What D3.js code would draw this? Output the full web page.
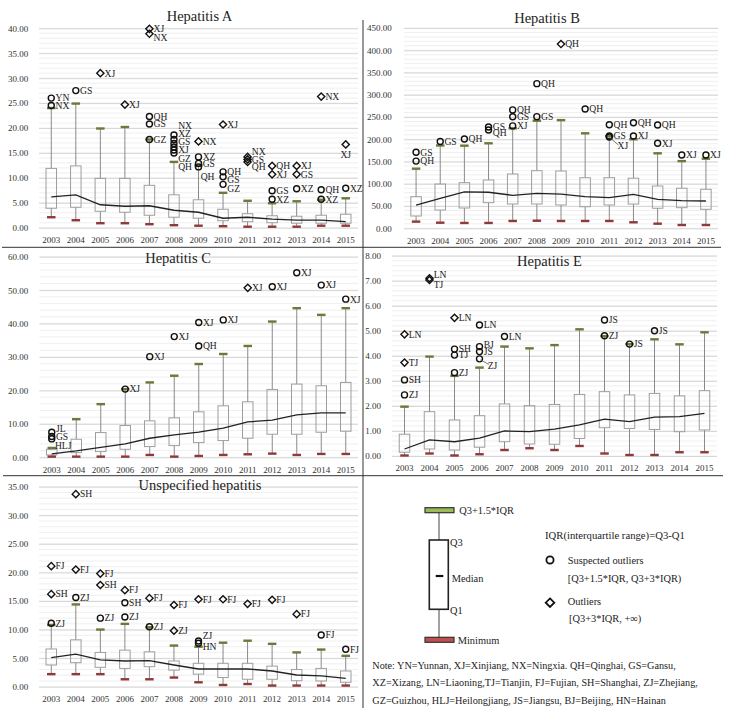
<!DOCTYPE html>
<html><head><meta charset="utf-8">
<script src="https://cdn.jsdelivr.net/npm/d3@7"></script>
<style>body{margin:0;background:#fff}svg{display:block}</style>
</head><body><svg id="c" width="730" height="717"></svg>
<script>
const years = [2003,2004,2005,2006,2007,2008,2009,2010,2011,2012,2013,2014,2015];

// Hepatitis A
const aQ3  = [11.9,12.4,9.9,9.9,8.5,6.6,5.6,3.7,2.8,2.4,2.3,2.5,2.7];
const aQ1  = [3.9,4.1,3.3,3.1,2.5,2.1,1.9,1.4,1.2,1.0,0.9,0.9,0.9];
const aMed = [6.2,6.6,4.6,4.3,4.4,3.5,3.1,1.9,2.1,1.7,1.5,1.5,1.2];
const aMax = [24.0,24.9,19.9,20.2,17.7,13.2,12.5,7.0,5.4,4.9,5.3,5.6,5.9];
const aMin = [2.1,1.5,0.9,0.9,0.7,0.5,0.4,0.3,0.2,0.2,0.2,0.4,0.4];
const aOut = [
 [2003,26.0,'YN','c'],[2003,24.5,'NX','c'],[2004,27.5,'GS','c'],[2005,31.0,'XJ','d'],[2006,24.7,'XJ','d'],
 [2007,39.9,'XJ','d'],[2007,38.9,'NX','d'],[2007,22.3,'QH','c'],[2007,20.8,'GS','c'],[2007,17.7,'GZ','c'],
 [2008,18.6,'NX','c'],[2008,17.7,'XZ','c'],[2008,16.9,'GS','c'],[2008,16.2,'XJ','c'],[2008,15.6,'GZ','c'],[2008,15.0,'QH','c'],
 [2009,17.3,'NX','d'],[2009,14.2,'XZ','c'],[2009,12.9,'GS','c'],[2009,12.2,'QH','c'],
 [2010,20.7,'XJ','d'],[2010,11.2,'QH','c'],[2010,10.2,'GS','c'],[2010,8.7,'GZ','c'],
 [2011,14.2,'NX','d'],[2011,13.7,'GS','d'],[2011,13.2,'QH','d'],
 [2012,12.4,'QH','d'],[2012,10.7,'XJ','d'],[2012,7.4,'GS','c'],[2012,5.7,'XZ','c'],
 [2013,12.4,'XJ','d'],[2013,10.7,'GS','d'],[2013,7.8,'XZ','c'],
 [2014,26.3,'NX','d'],[2014,7.6,'QH','c'],[2014,5.7,'XZ','c'],
 [2015,16.7,'XJ','d'],[2015,7.9,'XZ','c']
];

// Hepatitis B
const bQ3  = [71,99.5,102.5,108.5,122,129.4,128.7,113.7,113.7,112.6,95,90,87.6];
const bQ1  = [27.6,41,45.6,57.5,54.6,54.6,52.4,48.5,52.4,54.5,45,46.3,42.7];
const bMed = [52,67,82,81,74,78.6,77,71,68.8,76.4,65,62,61.3];
const bMax = [134,186,185.6,191,224.7,241.7,243,213.4,207,200,168.5,151,156.4];
const bMin = [15,12.6,12,12,16.4,17,16.4,16.4,16.4,13.5,10.4,7.4,7.4];
const bOut = [
 [2003,171,'GS','c'],[2003,151,'QH','c'],[2004,195,'GS','c'],[2005,200.6,'QH','c'],
 [2006,227.6,'GS','c'],[2006,221,'QH','c'],[2007,266,'QH','c'],[2007,250.7,'GS','c'],[2007,230,'XJ','c'],
 [2008,325,'QH','c'],[2008,250.8,'GS','c'],[2009,414,'QH','d'],[2010,268,'QH','c'],
 [2011,232.8,'QH','c'],[2011,207.4,'GS','c'],[2011,205,'XJ','c'],[2012,237.3,'QH','c'],[2012,207.4,'XJ','c'],
 [2013,232,'QH','c'],[2013,191,'XJ','c'],[2014,164.7,'XJ','c'],[2015,164.7,'XJ','c']
];

// Hepatitis C
const cQ3  = [2.4,5.4,7.4,9.5,10.9,11.8,13.6,15.4,16.6,20.3,21.9,21.4,22.4];
const cQ1  = [0.7,1.4,1.7,2.4,3.2,3.5,4.4,5.0,5.7,6.9,6.9,7.5,7.8];
const cMed = [1.0,1.9,3.0,4.0,5.7,6.7,7.5,8.7,10.6,11.1,12.7,13.3,13.3];
const cMax = [2.8,11.4,15.9,20.4,22.4,24.4,27.9,30.9,33.3,40.6,44.6,42.6,44.6];
const cMin = [0.2,0.2,0.2,0.2,0.7,0.2,0.4,0.7,0.9,1.1,0.7,1.0,1.0];
const cOut = [
 [2003,7.5,'JL','c'],[2003,6.2,'GS','c'],[2003,5.5,'HLJ','c'],[2006,20.4,'XJ','c'],[2007,30.1,'XJ','c'],
 [2008,36.1,'XJ','c'],[2009,40.3,'XJ','c'],[2009,33.3,'QH','c'],[2010,41.1,'XJ','c'],[2011,50.7,'XJ','d'],
 [2012,51.0,'XJ','c'],[2013,55.2,'XJ','c'],[2014,51.5,'XJ','c'],[2015,47.3,'XJ','c']
];

// Hepatitis E
const eQ3  = [0.87,1.77,1.44,1.61,2.08,2.01,2.06,2.46,2.57,2.44,2.5,2.4,2.61];
const eQ1  = [0.15,0.28,0.24,0.35,0.57,0.48,0.47,0.7,1.13,1.1,1.06,0.97,1.04];
const eMed = [0.28,0.64,0.57,0.71,1.0,0.97,1.07,1.24,1.47,1.37,1.55,1.57,1.7];
const eMax = [1.97,3.97,3.2,3.53,4.37,4.3,4.43,5.06,4.79,4.47,4.66,4.46,4.94];
const eMin = [0.02,0.1,0.02,0.07,0.24,0.31,0.24,0.4,0.1,0.04,0.04,0.15,0.15];
const eOut = [
 [2003,4.86,'LN','d'],[2003,3.73,'TJ','d'],[2003,3.04,'SH','c'],[2003,2.44,'ZJ','c'],
 [2004,7.1,'LN','d'],[2004,7.03,'TJ','d'],
 [2005,5.52,'LN','d'],[2005,4.27,'SH','c'],[2005,4.03,'TJ','c'],[2005,3.33,'ZJ','c'],
 [2006,5.23,'LN','c'],[2006,4.37,'BJ','c'],[2006,4.17,'JS','c'],[2006,3.88,'ZJ','c'],
 [2007,4.77,'LN','c'],[2011,5.43,'JS','c'],[2011,4.8,'ZJ','c'],[2012,4.47,'JS','c'],[2013,5.0,'JS','c']
];

// Unspecified hepatitis
const uQ3  = [6.6,8.2,6.0,6.4,6.1,4.5,4.1,4.1,4.1,3.6,3.0,3.2,2.75];
const uQ1  = [3.8,4.2,3.4,3.2,3.5,2.9,2.2,1.6,1.3,1.3,1.05,1.0,0.77];
const uMed = [5.1,5.7,4.7,4.5,4.55,3.8,3.1,3.1,3.1,2.75,2.05,1.9,1.45];
const uMax = [10.8,14.4,10.0,11.0,10.4,7.2,7.0,7.7,8.05,7.5,6.0,6.5,5.4];
const uMin = [2.2,2.2,2.2,1.3,1.3,1.6,0.77,0.3,0.47,0.2,0.2,0.2,0.2];
const uOut = [
 [2003,21.1,'FJ','d'],[2003,16.2,'SH','d'],[2003,11.1,'ZJ','c'],
 [2004,33.7,'SH','d'],[2004,20.5,'FJ','d'],[2004,15.6,'ZJ','c'],
 [2005,19.8,'FJ','d'],[2005,17.8,'SH','d'],[2005,12.0,'ZJ','c'],
 [2006,16.9,'FJ','d'],[2006,14.7,'SH','c'],[2006,12.2,'ZJ','c'],
 [2007,15.5,'FJ','d'],[2007,10.5,'ZJ','c'],[2008,14.3,'FJ','d'],[2008,9.8,'ZJ','d'],
 [2009,15.3,'FJ','d'],[2009,8.0,'ZJ','c'],[2009,7.6,'HN','c'],
 [2010,15.3,'FJ','d'],[2011,14.5,'FJ','d'],[2012,15.2,'FJ','d'],[2013,12.7,'FJ','d'],
 [2014,9.05,'FJ','c'],[2015,6.55,'FJ','c']
];

const noteLines = [
 'Note: YN=Yunnan, XJ=Xinjiang, NX=Ningxia. QH=Qinghai, GS=Gansu,',
 'XZ=Xizang, LN=Liaoning,TJ=Tianjin, FJ=Fujian, SH=Shanghai, ZJ=Zhejiang,',
 'GZ=Guizhou, HLJ=Heilongjiang, JS=Jiangsu, BJ=Beijing, HN=Hainan'
];

// label nudges (pixels) : [dx, dy, leader]
const nudge = {
 A:{'2007NX':[0,4],'2008NX':[0,-9],'2008XZ':[0,-5.5],'2008GS':[0,-1.8],'2008XJ':[0,3.1],'2008GZ':[0,8.4],'2008QH':[0,13.8],
    '2009QH':[-2,10],'2010GS':[0,2.6],'2010GZ':[0,4],'2011NX':[0,-5],'2011QH':[0,5],'2015XJ':[-9.5,10]},
 B:{'2006QH':[0,3],'2011XJ':[4,9,true]},
 C:{'2003JL':[0,-4],'2003HLJ':[-1,7]},
 E:{'2004LN':[0,-3.5],'2004TJ':[0,4.5],'2006BJ':[0,-1.5],'2006ZJ':[4,6.5,true]},
 U:{'2009ZJ':[0,-5],'2009HN':[0,3]}
};

const FONT = '"Liberation Serif", "Times New Roman", serif';
const svg = d3.select('#c');

function panel(cfg){
  const x = d3.scaleBand().domain(years).range([cfg.left, cfg.right]);
  const y = d3.scaleLinear().domain([0, cfg.max]).range([cfg.bottom, cfg.top]);
  const g = svg.append('g');
  const W = cfg.right - cfg.left;
  g.append('g').selectAll('line').data(d3.range(0, cfg.max + 1e-9, cfg.minor)).join('line')
    .attr('x1', cfg.left).attr('x2', cfg.right)
    .attr('y1', d => y(d)).attr('y2', d => y(d))
    .attr('stroke', '#ebebeb').attr('stroke-width', 0.8);
  const ya = g.append('g').attr('transform', `translate(${cfg.left},0)`)
    .call(d3.axisLeft(y).tickValues(d3.range(0, cfg.max + 1e-9, cfg.major))
      .tickFormat(d3.format('.2f')).tickSize(-W).tickPadding(cfg.pad));
  ya.select('.domain').remove();
  ya.selectAll('line').attr('stroke', '#d3d3d3').attr('stroke-width', 0.9);
  ya.selectAll('text').attr('font-family', FONT).attr('font-size', 9).attr('fill', '#333');
  const xa = g.append('g').attr('transform', `translate(0,${cfg.bottom})`)
    .call(d3.axisBottom(x).tickSize(0).tickPadding(9));
  xa.select('.domain').remove();
  xa.selectAll('text').attr('font-family', FONT).attr('font-size', 9).attr('fill', '#333');
  g.append('text').attr('x', cfg.tx).attr('y', cfg.ty).attr('text-anchor', 'middle')
    .attr('font-family', FONT).attr('font-size', 14.5).attr('fill', '#222').text(cfg.title);

  const rows = years.map((yr, i) => ({yr, q1: cfg.q1[i], q3: cfg.q3[i], med: cfg.med[i], mx: cfg.mx[i], mn: cfg.mn[i]}));
  const bw = 10.5, cw = 8.5;
  const cx = d => x(d.yr) + x.bandwidth() / 2;
  g.append('g').selectAll('line').data(rows).join('line')
    .attr('x1', cx).attr('x2', cx).attr('y1', d => y(d.q3)).attr('y2', d => y(d.mx))
    .attr('stroke', '#8a8a8a').attr('stroke-width', 1);
  g.append('g').selectAll('line').data(rows).join('line')
    .attr('x1', cx).attr('x2', cx).attr('y1', d => y(d.q1)).attr('y2', d => y(d.mn))
    .attr('stroke', '#8a8a8a').attr('stroke-width', 1);
  g.append('g').selectAll('rect').data(rows).join('rect')
    .attr('x', d => cx(d) - bw / 2).attr('width', bw)
    .attr('y', d => y(d.q3)).attr('height', d => y(d.q1) - y(d.q3))
    .attr('fill', 'none').attr('stroke', '#9e9e9e').attr('stroke-width', 1);
  g.append('g').selectAll('rect').data(rows).join('rect')
    .attr('x', d => cx(d) - cw / 2).attr('width', cw).attr('y', d => y(d.mx) - 1.2).attr('height', 2.4)
    .attr('fill', '#6b7a3c');
  g.append('g').selectAll('rect').data(rows).join('rect')
    .attr('x', d => cx(d) - cw / 2).attr('width', cw).attr('y', d => y(d.mn) - 1.2).attr('height', 2.4)
    .attr('fill', '#8f3a3a');
  g.append('path').datum(rows)
    .attr('d', d3.line().x(cx).y(d => y(d.med)))
    .attr('fill', 'none').attr('stroke', '#222').attr('stroke-width', 1.3);
  const og = g.append('g');
  const s = 3.6;
  cfg.out.forEach(([yr, v, code, kind]) => {
    const px = x(yr) + x.bandwidth() / 2, py = y(v);
    if (kind === 'c') {
      og.append('circle').attr('cx', px).attr('cy', py).attr('r', 3)
        .attr('fill', 'none').attr('stroke', '#111').attr('stroke-width', 1.4);
    } else {
      og.append('path').attr('d', `M${px},${py - s}L${px + s},${py}L${px},${py + s}L${px - s},${py}Z`)
        .attr('fill', 'none').attr('stroke', '#111').attr('stroke-width', 1.4);
    }
    const n = (cfg.nudge[yr + code]) || [0, 0];
    const lx = px + 4.2 + n[0], ly = py + n[1];
    if (n[2]) {
      og.append('line').attr('x1', px + 1).attr('y1', py + 1).attr('x2', lx + 1).attr('y2', ly - 1)
        .attr('stroke', '#555').attr('stroke-width', 0.8);
    }
    og.append('text').attr('x', lx).attr('y', ly).attr('dy', '0.35em')
      .attr('font-family', FONT).attr('font-size', 9.6).attr('fill', '#222').text(code);
  });
}

panel({title:'Hepatitis A', tx:199.5, ty:20.5, left:39, right:358, top:28.3, bottom:227.7, max:40, major:5, minor:1, pad:10.7,
  q1:aQ1, q3:aQ3, med:aMed, mx:aMax, mn:aMin, out:aOut, nudge:nudge.A});
panel({title:'Hepatitis B', tx:547, ty:22.5, left:404, right:718, top:28, bottom:228.3, max:450, major:50, minor:10, pad:12.3,
  q1:bQ1, q3:bQ3, med:bMed, mx:bMax, mn:bMin, out:bOut, nudge:nudge.B});
panel({title:'Hepatitis C', tx:178, ty:263, left:39.5, right:358, top:256.7, bottom:457.3, max:60, major:10, minor:2, pad:11.2,
  q1:cQ1, q3:cQ3, med:cMed, mx:cMax, mn:cMin, out:cOut, nudge:nudge.C});
panel({title:'Hepatitis E', tx:549.5, ty:266, left:392, right:717, top:255.7, bottom:456, max:8, major:1, minor:0.2, pad:11,
  q1:eQ1, q3:eQ3, med:eMed, mx:eMax, mn:eMin, out:eOut, nudge:nudge.E});
panel({title:'Unspecified hepatitis', tx:200, ty:490, left:39, right:358, top:486.7, bottom:686.7, max:35, major:5, minor:1, pad:10.7,
  q1:uQ1, q3:uQ3, med:uMed, mx:uMax, mn:uMin, out:uOut, nudge:nudge.U});

const fr = svg.append('g').attr('stroke', '#333').attr('stroke-width', 1);
fr.append('line').attr('x1', 2).attr('x2', 721).attr('y1', 247.3).attr('y2', 247.3);
fr.append('line').attr('x1', 3).attr('x2', 723).attr('y1', 475.7).attr('y2', 475.7);
fr.append('line').attr('x1', 363).attr('x2', 363).attr('y1', 20).attr('y2', 708);

const lg = svg.append('g');
const T = (x, y, t, fs = 10.4) => lg.append('text').attr('x', x).attr('y', y).attr('dy', '0.35em')
  .attr('font-family', FONT).attr('font-size', fs).attr('fill', '#222').text(t);
lg.append('line').attr('x1', 439).attr('x2', 439).attr('y1', 510).attr('y2', 640).attr('stroke', '#444').attr('stroke-width', 1);
lg.append('rect').attr('x', 425).attr('y', 507.7).attr('width', 29).attr('height', 5).attr('fill', '#9bbb59').attr('stroke', '#333').attr('stroke-width', 1.2);
lg.append('rect').attr('x', 429.3).attr('y', 540).attr('width', 19).attr('height', 69.3).attr('fill', '#fff').attr('stroke', '#222').attr('stroke-width', 1.6);
lg.append('line').attr('x1', 435.7).attr('x2', 443.3).attr('y1', 576).attr('y2', 576).attr('stroke', '#111').attr('stroke-width', 2.2);
lg.append('rect').attr('x', 425).attr('y', 637.3).attr('width', 29).attr('height', 5).attr('fill', '#c0504d').attr('stroke', '#333').attr('stroke-width', 1.2);
T(459.3, 510.5, 'Q3+1.5*IQR');
T(450, 542, 'Q3');
T(451.7, 578, 'Median');
T(450, 610, 'Q1');
T(457.7, 640.5, 'Minimum');
T(545, 535, 'IQR(interquartile range)=Q3-Q1', 10.7);
lg.append('circle').attr('cx', 550).attr('cy', 560).attr('r', 3.6).attr('fill', 'none').attr('stroke', '#111').attr('stroke-width', 1.8);
T(567.7, 560, 'Suspected outliers');
T(567.7, 578.3, '[Q3+1.5*IQR, Q3+3*IQR)');
lg.append('path').attr('d', 'M550,598.4L554.3,602.7L550,607L545.7,602.7Z').attr('fill', 'none').attr('stroke', '#111').attr('stroke-width', 1.8);
T(567.7, 601.7, 'Outliers');
T(569, 618.3, '[Q3+3*IQR, +\u221e)');
noteLines.forEach((t, i) => T(372.3, 665 + i * 17.5, t, 10.2));
</script></body></html>
